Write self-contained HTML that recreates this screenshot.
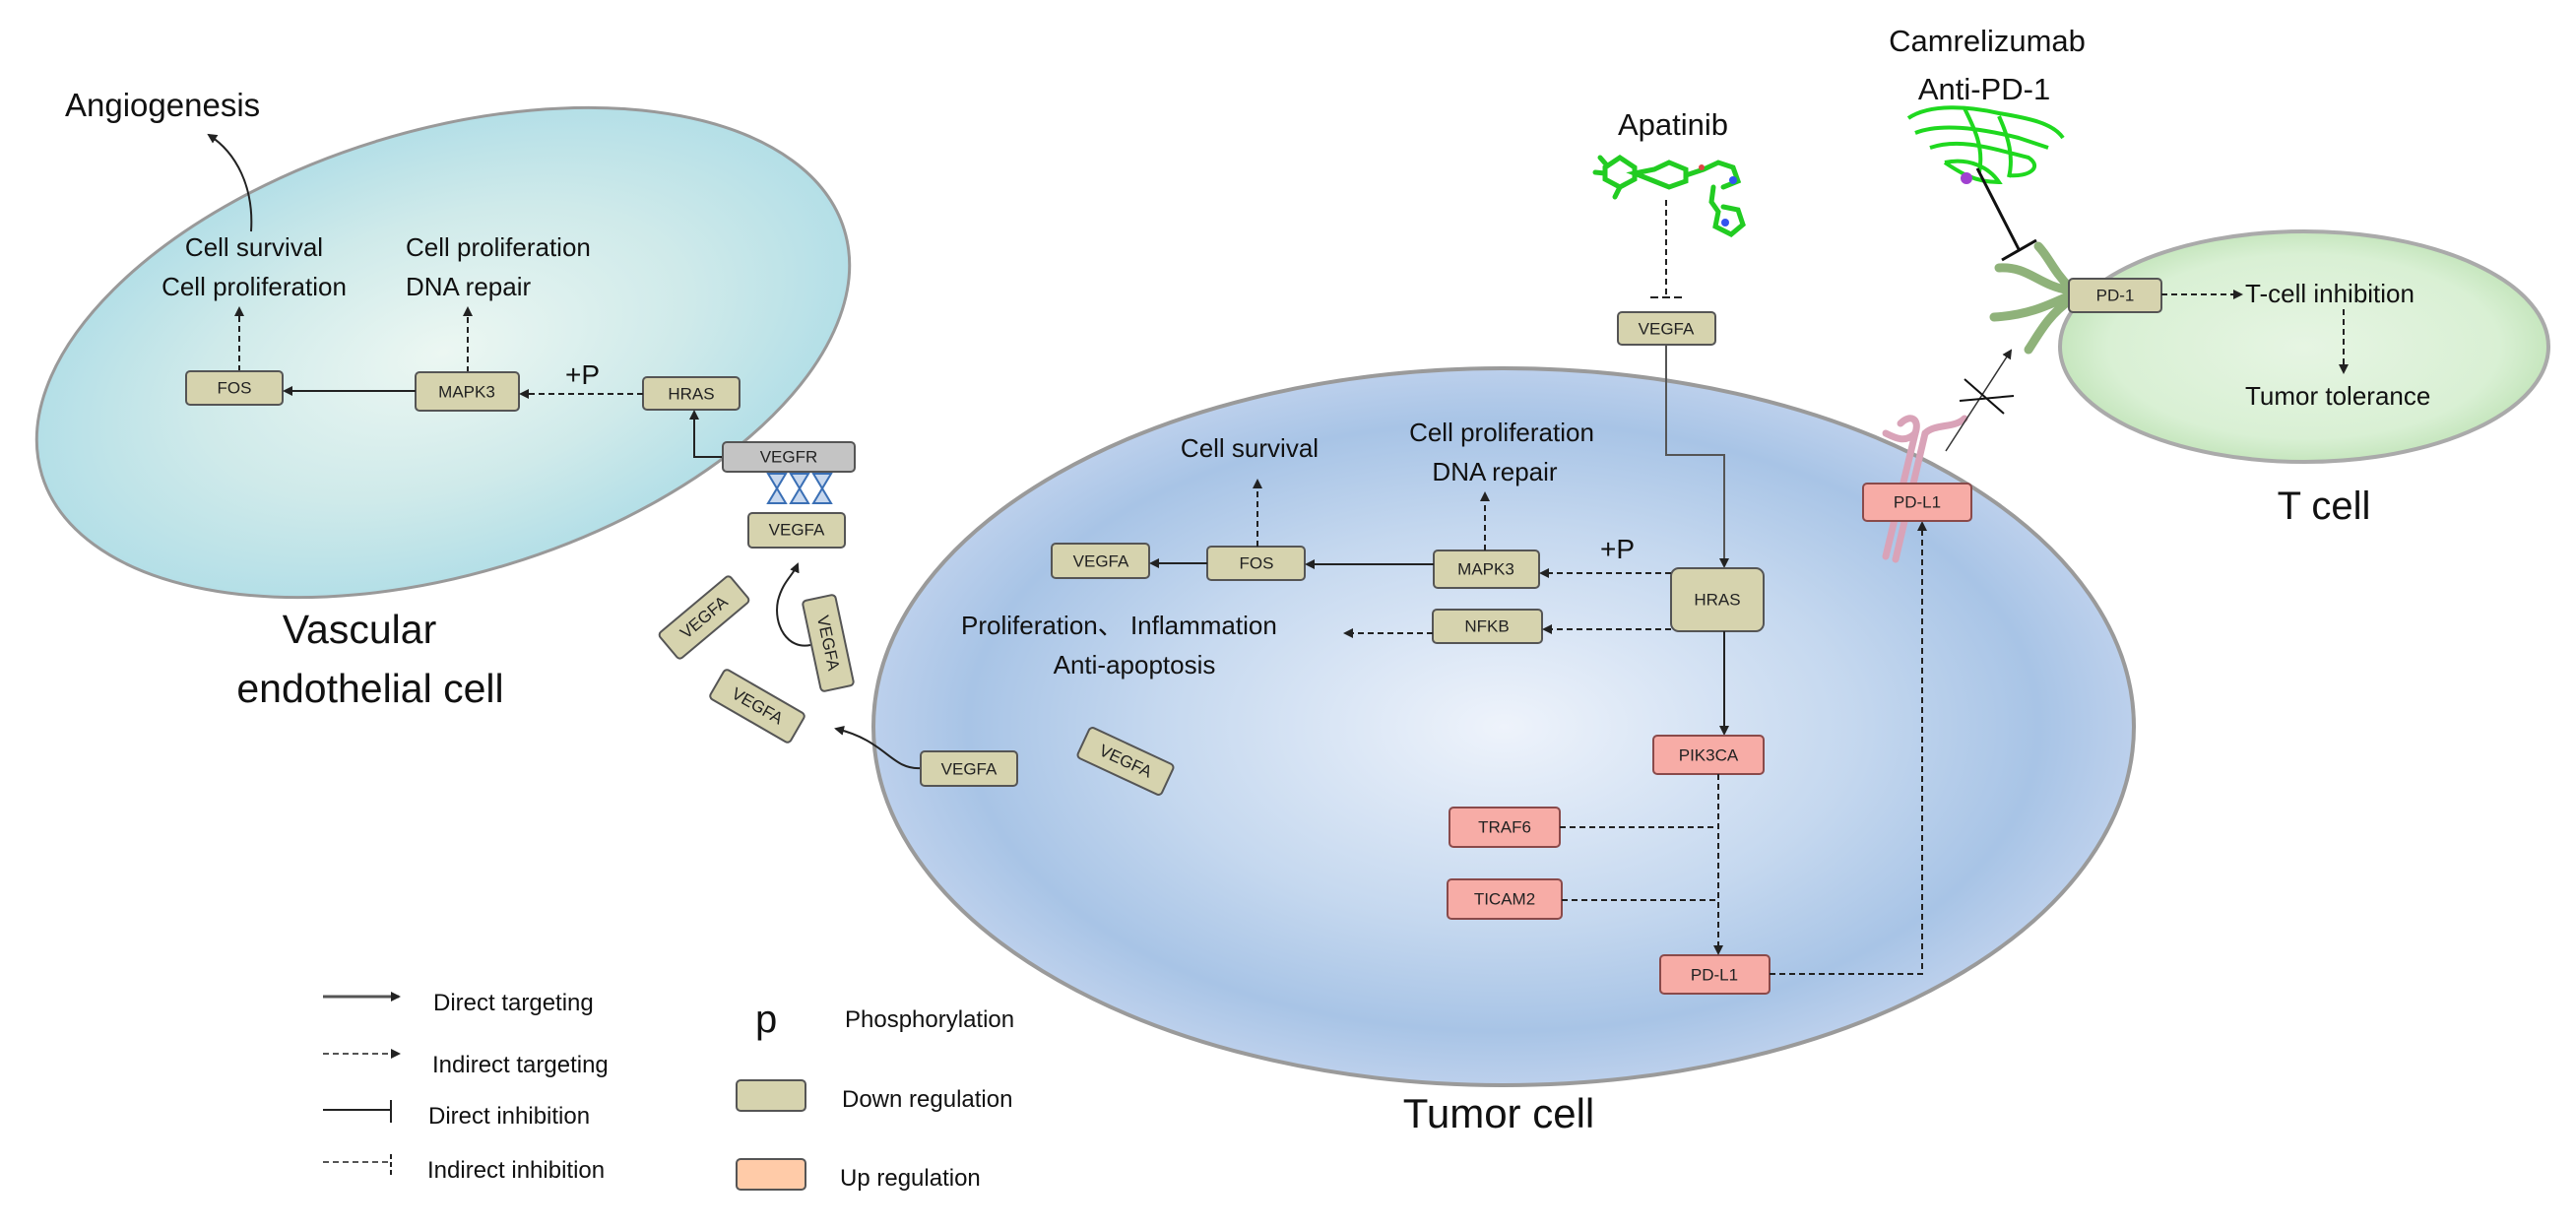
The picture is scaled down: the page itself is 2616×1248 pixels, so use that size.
<!DOCTYPE html>
<html><head><meta charset="utf-8"><style>
html,body{margin:0;padding:0;background:#fff;}
svg{display:block;font-family:"Liberation Sans",sans-serif;}
.b{fill:#d6d3ae;stroke:#555;stroke-width:2;}
.r{fill:#f7aca6;stroke:#8a4a4a;stroke-width:2;}
.bt{font-size:17px;text-anchor:middle;dominant-baseline:central;fill:#222;}
.t{font-size:26px;fill:#111;}
.l{stroke:#222;stroke-width:2;fill:none;}
.d{stroke:#222;stroke-width:2;fill:none;stroke-dasharray:6,4;}
</style></head><body>
<svg width="2616" height="1248" viewBox="0 0 2616 1248" xmlns="http://www.w3.org/2000/svg">
<defs>
<radialGradient id="gv" cx="50%" cy="50%" r="50%"><stop offset="0" stop-color="#ecf7f2"/><stop offset="0.6" stop-color="#cfeaea"/><stop offset="1" stop-color="#b4dfe7"/></radialGradient>
<radialGradient id="gt" cx="50%" cy="50%" r="50%"><stop offset="0" stop-color="#eef3fb"/><stop offset="0.55" stop-color="#c5d8ef"/><stop offset="0.85" stop-color="#a8c4e6"/><stop offset="1" stop-color="#bcd0ec"/></radialGradient>
<radialGradient id="gc" cx="50%" cy="50%" r="50%"><stop offset="0" stop-color="#e6f5e3"/><stop offset="0.8" stop-color="#d9f0d4"/><stop offset="1" stop-color="#c6e6be"/></radialGradient>
<marker id="a" markerWidth="10" markerHeight="10" refX="8" refY="5" orient="auto" markerUnits="userSpaceOnUse"><path d="M0,0 L10,5 L0,10 z" fill="#222"/></marker>
</defs>

<!-- Vascular cell -->
<ellipse cx="450" cy="358" rx="426" ry="225" transform="rotate(-17 450 358)" fill="url(#gv)" stroke="#999" stroke-width="3"/>
<text x="66" y="118" font-size="33" fill="#111">Angiogenesis</text>
<path class="l" d="M255,235 C258,190 240,155 212,137" marker-end="url(#a)"/>
<text class="t" x="258" y="260" text-anchor="middle">Cell survival</text>
<text class="t" x="258" y="300" text-anchor="middle">Cell proliferation</text>
<text class="t" x="412" y="260">Cell proliferation</text>
<text class="t" x="412" y="300">DNA repair</text>
<line class="d" x1="243" y1="377" x2="243" y2="313" marker-end="url(#a)"/>
<line class="d" x1="475" y1="378" x2="475" y2="313" marker-end="url(#a)"/>
<rect class="b" x="189" y="377" width="98" height="34" rx="4"/><text class="bt" x="238" y="394">FOS</text>
<rect class="b" x="422" y="378" width="105" height="39" rx="4"/><text class="bt" x="474" y="398">MAPK3</text>
<rect class="b" x="653" y="383" width="98" height="33" rx="4"/><text class="bt" x="702" y="400">HRAS</text>
<line class="l" x1="422" y1="397" x2="289" y2="397" marker-end="url(#a)"/>
<line class="d" x1="653" y1="400" x2="529" y2="400" marker-end="url(#a)"/>
<text x="574" y="390" font-size="28" fill="#111">+P</text>
<path class="l" d="M734,464 L705,464 L705,418" marker-end="url(#a)"/>
<rect x="734" y="449" width="134" height="30" rx="4" fill="#c4c4c4" stroke="#555" stroke-width="2"/><text class="bt" x="801" y="464">VEGFR</text>
<g fill="#c8d8ee" stroke="#3a6fb5" stroke-width="2">
<path d="M780,481 L798,481 L789,496 z M780,511 L798,511 L789,496 z"/>
<path d="M803,481 L821,481 L812,496 z M803,511 L821,511 L812,496 z"/>
<path d="M826,481 L844,481 L835,496 z M826,511 L844,511 L835,496 z"/>
</g>
<rect class="b" x="760" y="521" width="98" height="35" rx="4"/><text class="bt" x="809" y="538">VEGFA</text>
<g transform="rotate(-40 715 627)"><rect class="b" x="668" y="610" width="94" height="34" rx="4"/><text class="bt" x="715" y="627">VEGFA</text></g>
<g transform="rotate(78 841 653)"><rect class="b" x="794" y="636" width="94" height="34" rx="4"/><text class="bt" x="841" y="653">VEGFA</text></g>
<g transform="rotate(30 769 717)"><rect class="b" x="722" y="700" width="94" height="34" rx="4"/><text class="bt" x="769" y="717">VEGFA</text></g>
<path class="l" d="M823,655 C800,660 785,635 790,610 C795,590 805,585 810,573" marker-end="url(#a)"/>
<text x="365" y="653" font-size="41" text-anchor="middle" fill="#111">Vascular</text>
<text x="376" y="713" font-size="41" text-anchor="middle" fill="#111">endothelial cell</text>

<!-- Tumor cell -->
<ellipse cx="1527" cy="738" rx="640" ry="364" fill="url(#gt)" stroke="#9a9a9a" stroke-width="4"/>
<text x="1522" y="1145" font-size="42" text-anchor="middle" fill="#111">Tumor cell</text>
<path class="l" d="M935,780 C905,782 900,752 849,740" marker-end="url(#a)"/>
<rect class="b" x="935" y="763" width="98" height="35" rx="4"/><text class="bt" x="984" y="781">VEGFA</text>
<g transform="rotate(25 1143 773)"><rect class="b" x="1096" y="756" width="94" height="34" rx="4"/><text class="bt" x="1143" y="773">VEGFA</text></g>
<text x="1699" y="137" font-size="31" text-anchor="middle" fill="#111">Apatinib</text>
<g stroke="#22cc22" stroke-width="5" fill="none" stroke-linecap="round">
<path d="M1630,170 L1645,160 L1660,170 L1660,182 L1645,190 L1630,182 z"/>
<path d="M1660,176 L1680,172 L1695,165 L1712,172 L1712,184 L1695,190 L1680,184 z"/>
<path d="M1712,178 L1730,172 L1745,165 L1760,170 L1765,184 L1750,190"/>
<path d="M1740,190 L1738,205 L1745,215 L1742,230 L1758,238 L1770,228 L1765,213 L1750,210"/>
<path d="M1625,160 L1632,168 M1620,175 L1630,176 M1645,190 L1640,200"/>
</g>
<circle cx="1760" cy="183" r="4" fill="#3355ee"/><circle cx="1752" cy="226" r="4" fill="#3355ee"/><circle cx="1728" cy="170" r="3" fill="#dd4444"/>
<line class="d" x1="1692" y1="203" x2="1692" y2="300"/>
<line x1="1676" y1="302" x2="1708" y2="302" stroke="#222" stroke-width="2" stroke-dasharray="8,4"/>
<rect class="b" x="1643" y="317" width="99" height="33" rx="4"/><text class="bt" x="1692" y="334">VEGFA</text>
<path d="M1692,350 L1692,462 L1751,462 L1751,575" stroke="#555" stroke-width="2" fill="none" marker-end="url(#a)"/>
<rect class="b" x="1697" y="577" width="94" height="64" rx="8"/><text class="bt" x="1744" y="609">HRAS</text>
<rect class="b" x="1456" y="559" width="107" height="38" rx="4"/><text class="bt" x="1509" y="578">MAPK3</text>
<rect class="b" x="1455" y="619" width="111" height="34" rx="4"/><text class="bt" x="1510" y="636">NFKB</text>
<line class="d" x1="1697" y1="582" x2="1565" y2="582" marker-end="url(#a)"/>
<line class="d" x1="1697" y1="639" x2="1568" y2="639" marker-end="url(#a)"/>
<text x="1625" y="567" font-size="28" fill="#111">+P</text>
<line class="d" x1="1455" y1="643" x2="1366" y2="643" marker-end="url(#a)"/>
<text class="t" x="976" y="644">Proliferation、 Inflammation</text>
<text class="t" x="1152" y="684" text-anchor="middle">Anti-apoptosis</text>
<rect class="b" x="1226" y="555" width="99" height="34" rx="4"/><text class="bt" x="1276" y="572">FOS</text>
<rect class="b" x="1068" y="552" width="99" height="35" rx="4"/><text class="bt" x="1118" y="570">VEGFA</text>
<line class="l" x1="1456" y1="573" x2="1327" y2="573" marker-end="url(#a)"/>
<line class="l" x1="1226" y1="572" x2="1169" y2="572" marker-end="url(#a)"/>
<text class="t" x="1269" y="464" text-anchor="middle">Cell survival</text>
<line class="d" x1="1277" y1="555" x2="1277" y2="488" marker-end="url(#a)"/>
<text class="t" x="1525" y="448" text-anchor="middle">Cell proliferation</text>
<text class="t" x="1518" y="488" text-anchor="middle">DNA repair</text>
<line class="d" x1="1508" y1="559" x2="1508" y2="501" marker-end="url(#a)"/>
<line class="l" x1="1751" y1="641" x2="1751" y2="745" marker-end="url(#a)"/>
<rect class="r" x="1679" y="747" width="112" height="39" rx="4"/><text class="bt" x="1735" y="767">PIK3CA</text>
<rect class="r" x="1472" y="820" width="112" height="40" rx="4"/><text class="bt" x="1528" y="840">TRAF6</text>
<rect class="r" x="1470" y="893" width="116" height="40" rx="4"/><text class="bt" x="1528" y="913">TICAM2</text>
<rect class="r" x="1686" y="970" width="111" height="39" rx="4"/><text class="bt" x="1741" y="990">PD-L1</text>
<line class="d" x1="1745" y1="786" x2="1745" y2="968" marker-end="url(#a)"/>
<line class="d" x1="1584" y1="840" x2="1745" y2="840"/>
<line class="d" x1="1586" y1="914" x2="1745" y2="914"/>
<path class="d" d="M1797,989 L1952,989 L1952,531" marker-end="url(#a)"/>

<!-- PD-L1 receptor -->
<g fill="none" stroke="#d9a3b8" stroke-width="7" stroke-linecap="round">
<path d="M1915,565 L1945,440 C1950,425 1940,420 1930,430"/>
<path d="M1925,568 L1955,440"/>
<path d="M1955,440 C1965,430 1985,435 1995,425"/>
<path d="M1945,440 C1935,450 1925,445 1915,440"/>
</g>
<rect class="r" x="1892" y="491" width="110" height="38" rx="4"/><text class="bt" x="1947" y="510">PD-L1</text>
<line x1="1976" y1="458" x2="2042" y2="356" stroke="#333" stroke-width="1.5" marker-end="url(#a)"/>
<line x1="1995" y1="385" x2="2035" y2="420" stroke="#111" stroke-width="2"/>
<line x1="1990" y1="407" x2="2045" y2="402" stroke="#111" stroke-width="2"/>

<!-- T cell -->
<ellipse cx="2340" cy="352" rx="248" ry="117" fill="url(#gc)" stroke="#aaa" stroke-width="4"/>
<g fill="none" stroke="#8fb27a" stroke-width="9" stroke-linecap="round">
<path d="M2102,295 C2070,290 2060,270 2030,272"/>
<path d="M2102,300 C2080,310 2060,320 2025,322"/>
<path d="M2102,305 C2080,320 2070,340 2060,355"/>
<path d="M2102,292 C2085,275 2080,260 2070,250"/>
</g>
<rect class="b" x="2101" y="283" width="94" height="34" rx="4"/><text class="bt" x="2148" y="300">PD-1</text>
<line class="d" x1="2195" y1="299" x2="2276" y2="299" marker-end="url(#a)"/>
<text class="t" x="2280" y="307">T-cell inhibition</text>
<line class="d" x1="2380" y1="314" x2="2380" y2="378" marker-end="url(#a)"/>
<text class="t" x="2280" y="411">Tumor tolerance</text>
<text x="2360" y="527" font-size="40" text-anchor="middle" fill="#111">T cell</text>
<text x="2018" y="52" font-size="31" text-anchor="middle" fill="#111">Camrelizumab</text>
<text x="2015" y="101" font-size="31" text-anchor="middle" fill="#111">Anti-PD-1</text>
<g fill="none" stroke="#1fd81f" stroke-width="4">
<path d="M1938,120 C1960,105 2000,108 2030,115 C2060,120 2085,125 2095,140"/>
<path d="M1945,135 C1970,125 2010,130 2050,140 L2080,150"/>
<path d="M1960,150 C1990,140 2020,150 2060,160 C2075,170 2060,180 2040,178"/>
<path d="M1975,165 C2000,160 2020,170 2030,185 C2005,185 1990,175 1975,165"/>
<path d="M1995,110 C2005,130 2015,150 2010,175"/>
<path d="M2030,118 C2040,140 2045,160 2040,180"/>
</g>
<circle cx="1997" cy="181" r="6" fill="#a040d0"/>
<line x1="2008" y1="171" x2="2050" y2="253" stroke="#111" stroke-width="3"/>
<line x1="2033" y1="264" x2="2068" y2="244" stroke="#111" stroke-width="3"/>

<!-- Legend -->
<line x1="328" y1="1012" x2="405" y2="1012" stroke="#555" stroke-width="3" marker-end="url(#a)"/>
<text x="440" y="1026" font-size="24" fill="#111">Direct targeting</text>
<line x1="328" y1="1070" x2="405" y2="1070" stroke="#555" stroke-width="2" stroke-dasharray="6,4" marker-end="url(#a)"/>
<text x="439" y="1089" font-size="24" fill="#111">Indirect targeting</text>
<line x1="328" y1="1127" x2="397" y2="1127" stroke="#222" stroke-width="2"/>
<line x1="397" y1="1117" x2="397" y2="1140" stroke="#222" stroke-width="2"/>
<text x="435" y="1141" font-size="24" fill="#111">Direct inhibition</text>
<line x1="328" y1="1180" x2="395" y2="1180" stroke="#555" stroke-width="2" stroke-dasharray="6,4"/>
<line x1="397" y1="1172" x2="397" y2="1194" stroke="#222" stroke-width="2" stroke-dasharray="5,3"/>
<text x="434" y="1196" font-size="24" fill="#111">Indirect inhibition</text>
<text x="767" y="1048" font-size="40" fill="#111">p</text>
<text x="858" y="1043" font-size="24" fill="#111">Phosphorylation</text>
<rect class="b" x="748" y="1097" width="70" height="31" rx="4"/>
<text x="855" y="1124" font-size="24" fill="#111">Down regulation</text>
<rect x="748" y="1177" width="70" height="31" rx="4" fill="#ffcba8" stroke="#555" stroke-width="2"/>
<text x="853" y="1204" font-size="24" fill="#111">Up regulation</text>
</svg>
</body></html>
